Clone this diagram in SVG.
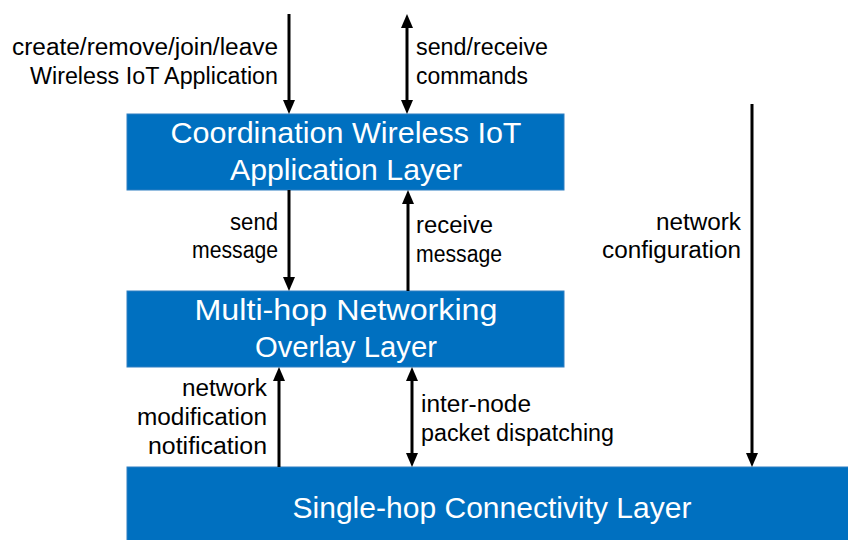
<svg xmlns="http://www.w3.org/2000/svg" width="848" height="540" viewBox="0 0 848 540">
<style>
.box{fill:#0070C0;stroke:#2f7fc2;stroke-width:1}
.bt{font-family:"Liberation Sans",Arial,sans-serif;font-size:30px;fill:#ffffff;text-anchor:middle}
.lb{font-family:"Liberation Sans",Arial,sans-serif;font-size:23px;fill:#000000}
.r{text-anchor:end}
.ln{stroke:#000;stroke-width:3;fill:none}
</style>
<defs>
<marker id="ah" viewBox="0 0 14 12" refX="0" refY="6" markerWidth="14" markerHeight="12" markerUnits="userSpaceOnUse" orient="auto-start-reverse">
<path d="M0,0 L14,6 L0,12 z" fill="#000"/>
</marker>
</defs>
<rect width="848" height="540" fill="#ffffff"/>
<g id="app-layer">
<rect class="box" x="127" y="114" width="437" height="76"/>
<text class="bt" x="346" y="143" textLength="351" lengthAdjust="spacingAndGlyphs">Coordination Wireless IoT</text>
<text class="bt" x="346" y="180" textLength="232" lengthAdjust="spacingAndGlyphs">Application Layer</text>
</g>
<g id="overlay-layer">
<rect class="box" x="127" y="291" width="437" height="76"/>
<text class="bt" x="346" y="320" textLength="303" lengthAdjust="spacingAndGlyphs">Multi-hop Networking</text>
<text class="bt" x="346" y="357" textLength="182" lengthAdjust="spacingAndGlyphs">Overlay Layer</text>
</g>
<g id="connectivity-layer">
<rect class="box" x="127" y="467" width="722" height="74"/>
<text class="bt" x="492" y="518" textLength="399" lengthAdjust="spacingAndGlyphs">Single-hop Connectivity Layer</text>
</g>
<g id="connectors">
<line class="ln" x1="289" y1="14" x2="289" y2="100" marker-end="url(#ah)"/>
<line class="ln" x1="407" y1="28" x2="407" y2="100" marker-start="url(#ah)" marker-end="url(#ah)"/>
<line class="ln" x1="289" y1="190" x2="289" y2="277" marker-end="url(#ah)"/>
<line class="ln" x1="408" y1="291" x2="408" y2="204" marker-end="url(#ah)"/>
<line class="ln" x1="279" y1="467" x2="279" y2="381" marker-end="url(#ah)"/>
<line class="ln" x1="412" y1="381" x2="412" y2="453" marker-start="url(#ah)" marker-end="url(#ah)"/>
<line class="ln" x1="752" y1="104" x2="752" y2="453" marker-end="url(#ah)"/>
</g>
<g id="labels">
<text class="lb r" x="278" y="55" textLength="266" lengthAdjust="spacingAndGlyphs">create/remove/join/leave</text>
<text class="lb r" x="278" y="84" textLength="248" lengthAdjust="spacingAndGlyphs">Wireless IoT Application</text>
<text class="lb" x="416" y="55" textLength="132" lengthAdjust="spacingAndGlyphs">send/receive</text>
<text class="lb" x="416" y="84" textLength="112" lengthAdjust="spacingAndGlyphs">commands</text>
<text class="lb r" x="278" y="230" textLength="48" lengthAdjust="spacingAndGlyphs">send</text>
<text class="lb r" x="278" y="258" textLength="86" lengthAdjust="spacingAndGlyphs">message</text>
<text class="lb" x="416" y="233" textLength="77" lengthAdjust="spacingAndGlyphs">receive</text>
<text class="lb" x="416" y="262" textLength="86" lengthAdjust="spacingAndGlyphs">message</text>
<text class="lb r" x="741" y="230" textLength="85" lengthAdjust="spacingAndGlyphs">network</text>
<text class="lb r" x="741" y="258" textLength="139" lengthAdjust="spacingAndGlyphs">configuration</text>
<text class="lb r" x="267" y="396" textLength="85" lengthAdjust="spacingAndGlyphs">network</text>
<text class="lb r" x="267" y="425" textLength="130" lengthAdjust="spacingAndGlyphs">modification</text>
<text class="lb r" x="267" y="454" textLength="119" lengthAdjust="spacingAndGlyphs">notification</text>
<text class="lb" x="421" y="412" textLength="110" lengthAdjust="spacingAndGlyphs">inter-node</text>
<text class="lb" x="421" y="441" textLength="193" lengthAdjust="spacingAndGlyphs">packet dispatching</text>
</g>
</svg>
